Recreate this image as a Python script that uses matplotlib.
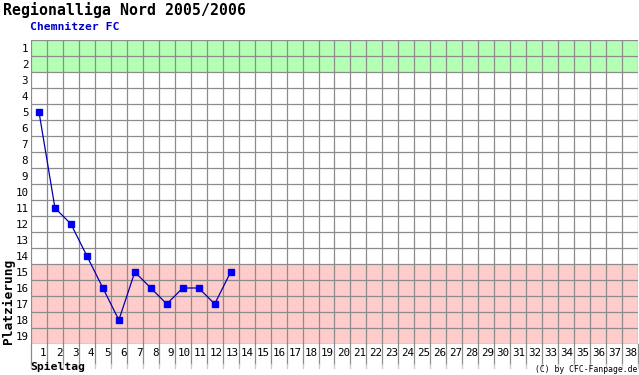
import matplotlib
matplotlib.use("Agg")
import matplotlib.pyplot as plt

title = "Regionalliga Nord 2005/2006"
team = "Chemnitzer FC"
days = [1, 2, 3, 4, 5, 6, 7, 8, 9, 10, 11, 12, 13]
places = [5, 11, 12, 14, 16, 18, 15, 16, 17, 16, 16, 17, 15]
n_days = 38
n_places = 19
promo_rows = (1, 2)
releg_rows = (15, 19)

W, H = 639, 375
fig = plt.figure(figsize=(W / 100, H / 100), dpi=100)
left, right, top, bottom = 31, 638, 40, 344
ax = fig.add_axes([left / W, 1 - bottom / H, (right - left) / W, (bottom - top) / H])
ax.set_xlim(0.5, n_days + 0.5)
ax.set_ylim(n_places + 0.5, 0.5)

grid_c = "#8c8c8c"
ax.axhspan(promo_rows[0] - 0.5, promo_rows[1] + 0.5, color="#b3ffb3", zorder=0, lw=0)
ax.axhspan(releg_rows[0] - 0.5, releg_rows[1] + 0.5, color="#ffcccc", zorder=0, lw=0)

for i in range(n_places + 1):
    ax.axhline(i + 0.5, color=grid_c, lw=0.9, zorder=1)
for j in range(n_days + 1):
    ax.axvline(j + 0.5, color=grid_c, lw=0.9, zorder=1)
    # extension into label row
    ax.plot([j + 0.5, j + 0.5], [n_places + 0.5, n_places + 1.75], color=grid_c,
            lw=0.9, clip_on=False, zorder=1)
    ax.plot([j + 0.5, j + 0.5], [n_places + 1.75, n_places + 2.0], color="#c8c8c8",
            lw=0.9, clip_on=False, zorder=1)

for s in ax.spines.values():
    s.set_visible(False)
ax.set_xticks([])
ax.set_yticks(range(1, n_places + 1))
ax.set_yticklabels([str(i) for i in range(1, n_places + 1)],
                   fontfamily="DejaVu Sans Mono", fontsize=7.8)
ax.tick_params(axis="y", length=0, pad=2)

for d in range(1, n_days + 1):
    ax.text(d + 0.47, n_places + 1.05, str(d), ha="right", va="center",
            fontfamily="DejaVu Sans Mono", fontsize=7.8, clip_on=False)

ax.plot(days, places, color="#0000b0", lw=0.9, zorder=3, clip_on=False)
ax.plot(days, places, ls="none", marker="s", ms=3.8, color="#0000ee", zorder=4, clip_on=False)

fig.text(3 / W, 1 - 10 / H, title, ha="left", va="center", fontfamily="DejaVu Sans Mono",
         fontsize=10.7, fontweight="bold")
fig.text(30 / W, 1 - 27 / H, team, ha="left", va="center", fontfamily="DejaVu Sans Mono",
         fontsize=8.2, fontweight="bold", color="#0000cc")
fig.text(30 / W, 1 - 367 / H, "Spieltag", ha="left", va="center", fontfamily="DejaVu Sans Mono",
         fontsize=8.2, fontweight="bold")
fig.text(8 / W, 1 - 301 / H, "Platzierung", ha="center", va="center", rotation=90,
         fontfamily="DejaVu Sans Mono", fontsize=9.3, fontweight="bold")
fig.text(637 / W, 1 - 369 / H, "(C) by CFC-Fanpage.de", ha="right", va="center",
         fontfamily="DejaVu Sans Mono", fontsize=5.8)

fig.savefig("out.png", dpi=100)
